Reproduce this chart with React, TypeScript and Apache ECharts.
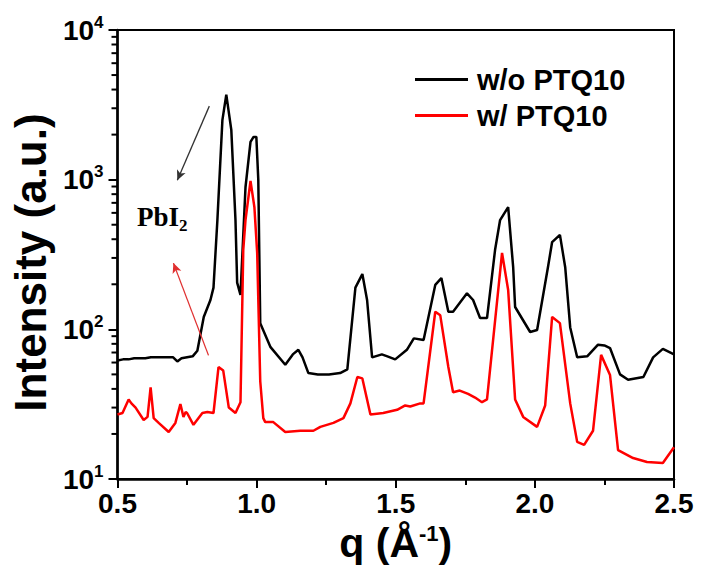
import React, { useEffect, useRef } from "react";
import * as echarts from "echarts";

const X_MIN = 0.5;
const X_MAX = 2.5;
const X_INTERVAL = 0.5;
const Y_MIN = 10;
const Y_MAX = 10000;

const SERIES_NAMES = ["w/o PTQ10", "w/ PTQ10"];

const withoutPTQ10: [number, number][] = [
  [0.5, 62], [0.52, 63], [0.54, 63], [0.56, 64], [0.58, 64], [0.6, 64], [0.62, 65],
  [0.64, 65], [0.66, 65], [0.68, 65], [0.7, 65], [0.715, 61], [0.73, 64], [0.75, 65],
  [0.77, 66], [0.787, 72], [0.81, 121], [0.834, 157], [0.845, 190], [0.859, 537],
  [0.877, 2500], [0.891, 3700], [0.909, 2150], [0.924, 537], [0.93, 205], [0.942, 170],
  [0.96, 890], [0.978, 1790], [0.989, 1930], [0.999, 1930], [1.006, 1000], [1.013, 110],
  [1.05, 76], [1.103, 58], [1.13, 68], [1.15, 73], [1.165, 65], [1.186, 51], [1.22, 50],
  [1.26, 50], [1.3, 51], [1.326, 54], [1.355, 190], [1.38, 234], [1.397, 157], [1.415, 65],
  [1.45, 68], [1.47, 66], [1.498, 63], [1.54, 73], [1.565, 87], [1.6, 85], [1.642, 198],
  [1.664, 220], [1.689, 131], [1.706, 131], [1.756, 174], [1.778, 157], [1.803, 119],
  [1.828, 119], [1.857, 340], [1.875, 537], [1.904, 656], [1.922, 260], [1.929, 141],
  [1.983, 96], [2.008, 99], [2.047, 260], [2.062, 383], [2.09, 428], [2.109, 260],
  [2.127, 103], [2.152, 65], [2.188, 66], [2.227, 79], [2.25, 78], [2.27, 75], [2.306, 50],
  [2.335, 46], [2.39, 48], [2.425, 65], [2.46, 74], [2.5, 68],
];

const withPTQ10: [number, number][] = [
  [0.5, 27], [0.518, 27.6], [0.54, 34], [0.55, 32], [0.565, 30], [0.594, 24.8], [0.608, 26],
  [0.619, 41], [0.63, 25.5], [0.648, 23.7], [0.684, 20.6], [0.708, 23.7], [0.726, 31.7],
  [0.737, 26], [0.745, 28], [0.75, 27.6], [0.773, 23], [0.805, 27.6], [0.823, 28],
  [0.845, 27.6], [0.863, 56], [0.88, 53], [0.9, 30], [0.924, 27.6], [0.942, 32.6],
  [0.952, 340], [0.96, 537], [0.978, 980], [0.992, 656], [1.002, 324], [1.013, 45],
  [1.024, 25.5], [1.031, 24], [1.06, 24], [1.103, 20.6], [1.157, 21], [1.204, 21],
  [1.229, 22.3], [1.276, 23.7], [1.312, 25.5], [1.337, 32], [1.362, 48], [1.38, 47],
  [1.409, 27], [1.455, 27.6], [1.505, 29], [1.534, 31], [1.552, 30.5], [1.588, 32],
  [1.6, 32], [1.642, 131], [1.66, 124], [1.689, 56], [1.706, 38], [1.73, 39], [1.76, 37],
  [1.785, 35], [1.81, 32.6], [1.828, 34], [1.882, 324], [1.904, 183], [1.929, 34],
  [1.958, 26], [2.008, 22.3], [2.037, 31], [2.062, 121], [2.09, 110], [2.127, 32],
  [2.152, 17.7], [2.177, 16.9], [2.209, 21], [2.238, 67.5], [2.27, 49.6], [2.299, 15.6],
  [2.353, 13.8], [2.403, 13.0], [2.46, 12.8], [2.5, 16.3],
];

const Y_MINOR_TICKS = [
  20, 30, 40, 50, 60, 70, 80, 90,
  200, 300, 400, 500, 600, 700, 800, 900,
  2000, 3000, 4000, 5000, 6000, 7000, 8000, 9000,
];

// annotation arrows in data units: [start, end]
const BLACK_ARROW: [[number, number], [number, number]] = [[0.83, 3100], [0.715, 990]];
const RED_ARROW: [[number, number], [number, number]] = [[0.827, 67], [0.701, 277]];

const FONT = "'Liberation Sans', Arial, sans-serif";
const SERIF = "'Liberation Serif', 'Times New Roman', serif";

export default function App() {
  const ref = useRef<HTMLDivElement>(null);
  useEffect(() => {
    if (!ref.current) return;
    const chart = echarts.init(ref.current, undefined, { renderer: "svg" });
    const option: any = {
      animation: false,
      backgroundColor: "#fff",
      grid: {
        left: 117,
        right: 30,
        top: 30,
        bottom: 94,
        show: true,
        borderColor: "#000",
        borderWidth: 2,
      },
      legend: {
        data: SERIES_NAMES,
        orient: "vertical",
        left: 410,
        top: 60,
        itemWidth: 53,
        itemHeight: 3,
        itemGap: 7,
        icon: "rect",
        textStyle: { fontFamily: FONT, fontWeight: "bold", fontSize: 29, color: "#000", padding: [0, 0, 0, 4] },
      },
      xAxis: {
        type: "value",
        min: X_MIN,
        max: X_MAX,
        interval: X_INTERVAL,
        name: "{a|q (Å}{s|-1}{a|)}",
        nameLocation: "middle",
        nameGap: 43,
        nameTextStyle: {
          verticalAlign: "top",
          rich: {
            a: { fontFamily: FONT, fontWeight: "bold", fontSize: 41, color: "#000" },
            s: { fontFamily: FONT, fontWeight: "bold", fontSize: 22, color: "#000", padding: [0, 0, 20, 0] },
          },
        },
        axisLine: { show: true, lineStyle: { color: "#000", width: 2.5 } },
        axisTick: { show: true, inside: false, length: 9, lineStyle: { color: "#000", width: 2 } },
        minorTick: { show: true, splitNumber: 2, length: 6, lineStyle: { color: "#000", width: 2 } },
        splitLine: { show: false },
        axisLabel: {
          margin: 10,
          fontFamily: FONT,
          fontWeight: "bold",
          fontSize: 28,
          color: "#000",
          formatter: (v: number) => v.toFixed(1),
        },
      },
      yAxis: {
        type: "log",
        logBase: 10,
        min: Y_MIN,
        max: Y_MAX,
        name: "Intensity (a.u.)",
        nameLocation: "middle",
        nameGap: 65,
        nameTextStyle: {
          fontFamily: FONT,
          fontWeight: "bold",
          fontSize: 44,
          color: "#000",
          padding: [0, 16, 0, 0],
        },
        axisLine: { show: true, lineStyle: { color: "#000", width: 2.5 } },
        axisTick: { show: true, inside: false, length: 9, lineStyle: { color: "#000", width: 2 } },
        minorTick: { show: false },
        splitLine: { show: false },
        axisLabel: {
          margin: 14,
          formatter: (v: number) => `{b|10}{s|${Math.round(Math.log10(v))}}`,
          rich: {
            b: { fontFamily: FONT, fontWeight: "bold", fontSize: 28, color: "#000" },
            s: { fontFamily: FONT, fontWeight: "bold", fontSize: 17, color: "#000", padding: [0, 0, 16, 0] },
          },
        },
      },
      graphic: [
        {
          type: "text",
          left: 137,
          top: 203,
          style: {
            text: "{a|PbI}{s|2}",
            rich: {
              a: { fontFamily: SERIF, fontWeight: "bold", fontSize: 27, fill: "#000" },
              s: { fontFamily: SERIF, fontWeight: "bold", fontSize: 17, fill: "#000", padding: [18, 0, 0, 0] },
            },
          },
        },
      ],
      series: [
        {
          name: SERIES_NAMES[0],
          type: "line",
          data: withoutPTQ10,
          showSymbol: false,
          symbol: "none",
          color: "#000000",
          lineStyle: { color: "#000000", width: 2.5 },
          z: 2,
          markLine: {
            silent: true,
            symbol: ["none", "arrow"],
            symbolSize: [7, 10],
            label: { show: false },
            lineStyle: { color: "#333", width: 1.3, type: "solid" },
            data: [[{ coord: BLACK_ARROW[0] }, { coord: BLACK_ARROW[1] }]],
          },
        },
        {
          name: SERIES_NAMES[1],
          type: "line",
          data: withPTQ10,
          showSymbol: false,
          symbol: "none",
          color: "#ff0000",
          lineStyle: { color: "#ff0000", width: 2.5 },
          z: 3,
          markLine: {
            silent: true,
            symbol: ["none", "arrow"],
            symbolSize: [7, 10],
            label: { show: false },
            lineStyle: { color: "#e03030", width: 1.3, type: "solid" },
            data: [[{ coord: RED_ARROW[0] }, { coord: RED_ARROW[1] }]],
          },
        },
        {
          name: "minorTicks",
          type: "custom",
          silent: true,
          clip: false,
          z: 5,
          data: Y_MINOR_TICKS.map((v) => [X_MIN, v]),
          renderItem: (_params: any, api: any) => {
            const p = api.coord([api.value(0), api.value(1)]);
            return {
              type: "line",
              shape: { x1: p[0] - 6, y1: p[1], x2: p[0], y2: p[1] },
              style: { stroke: "#000", lineWidth: 2 },
            };
          },
        },
      ],
    };
    chart.setOption(option);
    return () => chart.dispose();
  }, []);
  return (
    <div
      ref={ref}
      style={{ position: "fixed", left: 0, top: 0, width: 704, height: 573 }}
    />
  );
}
